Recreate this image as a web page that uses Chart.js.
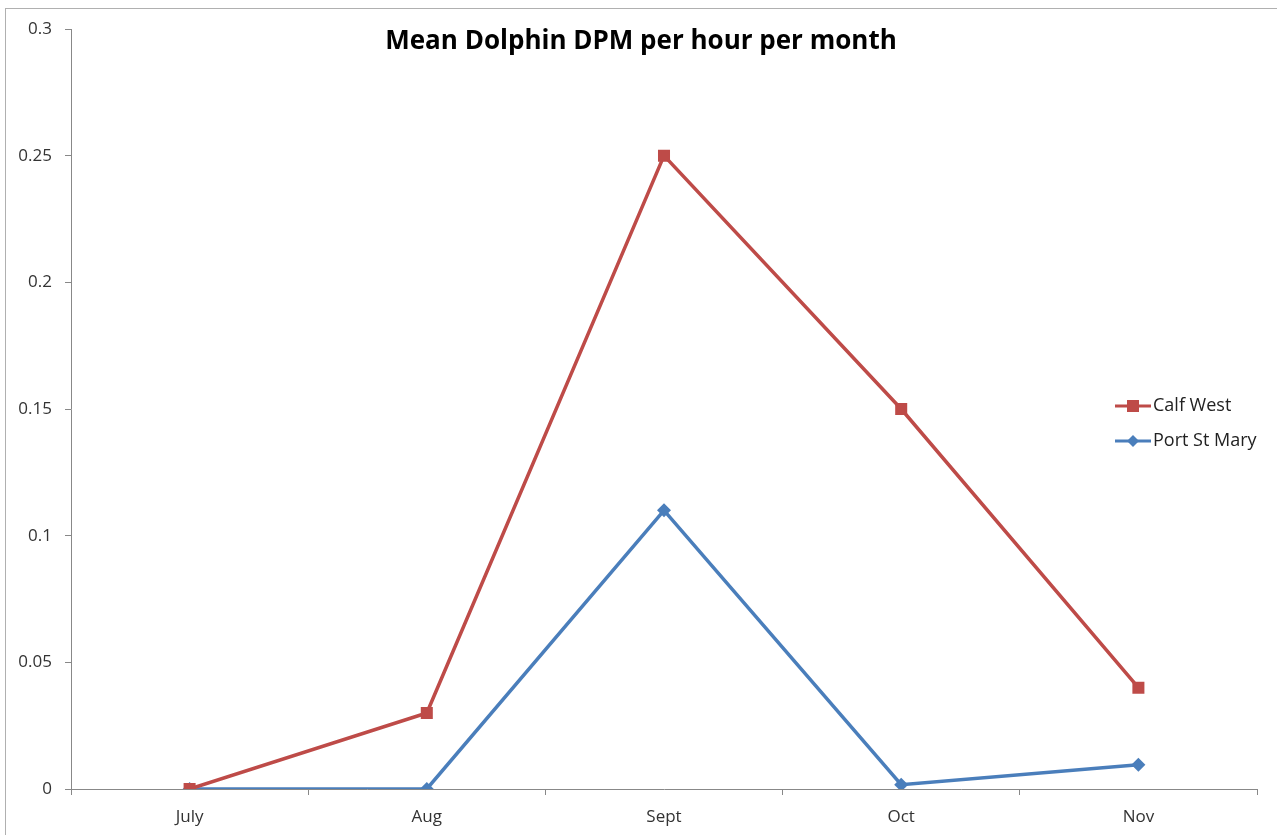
<!DOCTYPE html>
<html>
<head>
<meta charset="utf-8">
<script src="https://cdn.jsdelivr.net/npm/chart.js@4/dist/chart.umd.min.js"></script>
<style>
html,body{margin:0;padding:0;background:#fff;}
#wrap{position:relative;width:1277px;height:835px;}
</style>
</head>
<body>
<div id="wrap"><canvas id="c" width="1277" height="835"></canvas></div>
<script>
const categories = ["July", "Aug", "Sept", "Oct", "Nov"];
const calfWest = [0, 0.03, 0.25, 0.15, 0.04];
const portStMary = [0, 0, 0.11, 0.0017, 0.0096];
const yTickLabels = ["0", "0.05", "0.1", "0.15", "0.2", "0.25", "0.3"];
const titleText = "Mean Dolphin DPM per hour per month";

const FONT = "'Open Sans', 'Liberation Sans', sans-serif";

const decor = {
  id: 'decor',
  beforeDraw(chart) {
    const ctx = chart.ctx;
    ctx.save();
    ctx.fillStyle = '#fff';
    ctx.fillRect(0, 0, chart.width, chart.height);
    ctx.strokeStyle = '#b0b0b0';
    ctx.lineWidth = 1;
    ctx.strokeRect(5.5, 8.5, chart.width - 4, chart.height);
    ctx.restore();
  },
  afterDraw(chart) {
    const ctx = chart.ctx;
    ctx.save();
    ctx.fillStyle = '#000';
    ctx.font = "bold 26px " + FONT;
    ctx.textAlign = 'center';
    ctx.textBaseline = 'middle';
    ctx.fillText(titleText, 641, 42);
    // legend
    const items = chart.data.datasets;
    items.forEach((ds, i) => {
      const y = 406 + i * 35;
      ctx.strokeStyle = ds.borderColor;
      ctx.lineWidth = 3;
      ctx.beginPath();
      ctx.moveTo(1115, y);
      ctx.lineTo(1151, y);
      ctx.stroke();
      ctx.fillStyle = ds.backgroundColor;
      if (ds.pointStyle === 'rect') {
        ctx.fillRect(1127, y - 6, 12, 12);
      } else {
        ctx.beginPath();
        ctx.moveTo(1133, y - 6);
        ctx.lineTo(1139, y);
        ctx.lineTo(1133, y + 6);
        ctx.lineTo(1127, y);
        ctx.closePath();
        ctx.fill();
      }
      ctx.fillStyle = '#222';
      ctx.font = "18px " + FONT;
      ctx.textAlign = 'left';
      ctx.fillText(ds.label, 1153, y);
    });
    ctx.restore();
  }
};

new Chart(document.getElementById('c'), {
  type: 'line',
  data: {
    labels: categories,
    datasets: [
      {
        label: 'Calf West',
        data: calfWest,
        borderColor: '#BE4B48',
        backgroundColor: '#BE4B48',
        borderWidth: 3.5,
        pointStyle: 'rect',
        pointRadius: 8.5,
        pointBorderWidth: 0,
        tension: 0
      },
      {
        label: 'Port St Mary',
        data: portStMary,
        borderColor: '#4A7EBB',
        backgroundColor: '#4A7EBB',
        borderWidth: 3.5,
        pointStyle: 'rectRot',
        pointRadius: 7,
        pointBorderWidth: 0,
        tension: 0
      }
    ]
  },
  options: {
    responsive: false,
    animation: false,
    layout: { padding: { left: 0, right: 20, top: 29, bottom: 0 } },
    plugins: {
      legend: { display: false },
      title: { display: false },
      tooltip: { enabled: false }
    },
    scales: {
      x: {
        offset: true,
        grid: { drawOnChartArea: false, drawTicks: true, tickLength: 6, color: '#888', offset: true },
        border: { display: true, color: '#888', width: 1 },
        ticks: { color: '#333', font: { size: 17, family: FONT }, padding: 12, maxRotation: 0 },
        afterFit(s) { s.height = 46; }
      },
      y: {
        min: 0,
        max: 0.3,
        grid: { drawOnChartArea: false, drawTicks: true, tickLength: 6, color: '#888' },
        border: { display: true, color: '#888', width: 1 },
        ticks: {
          stepSize: 0.05,
          color: '#333',
          font: { size: 17, family: FONT },
          padding: 13,
          callback: (v, i) => yTickLabels[i]
        },
        afterFit(s) { s.width = 71; }
      }
    }
  },
  plugins: [decor]
});
</script>
</body>
</html>
